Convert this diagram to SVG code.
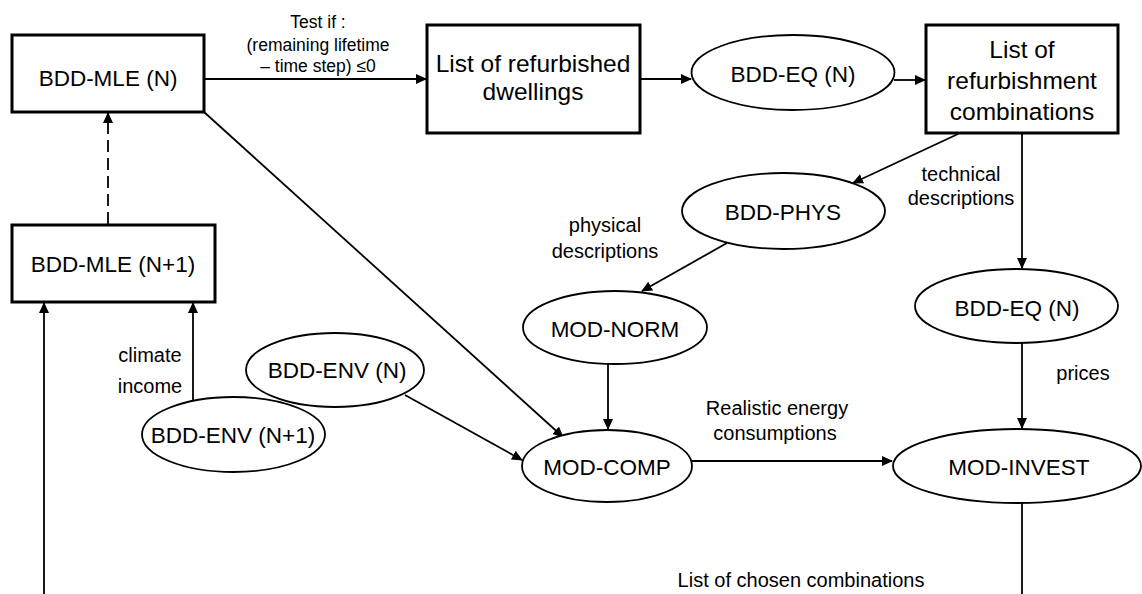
<svg xmlns="http://www.w3.org/2000/svg" width="1142" height="594" viewBox="0 0 1142 594">
<style>
  text { font-family: "Liberation Sans", Arial, sans-serif; fill: #000; text-anchor: middle; }
  .node { font-size: 22.5px; }
  .big { font-size: 24.5px; }
  .lbl { font-size: 20px; }
  .small { font-size: 17.5px; }
  .box { fill: #fff; stroke: #000; stroke-width: 3; }
  .ell { fill: #fff; stroke: #000; stroke-width: 1.8; }
  .edge { fill: none; stroke: #000; stroke-width: 1.8; }
  .arr { marker-end: url(#ah); }
  .dash { stroke-dasharray: 12 6; }
</style>
<defs>
  <marker id="ah" markerUnits="userSpaceOnUse" markerWidth="11" markerHeight="10" refX="10" refY="5" orient="auto">
    <path d="M0,0 L11,5 L0,10 z" fill="#000"/>
  </marker>
</defs>

<g id="connectors">
  <line class="edge arr" x1="204" y1="79" x2="426" y2="79"/>
  <line class="edge arr" x1="641" y1="79" x2="691" y2="79"/>
  <line class="edge arr" x1="894" y1="80" x2="925" y2="80"/>
  <line class="edge arr" x1="958" y1="134" x2="853" y2="183"/>
  <line class="edge arr" x1="1022" y1="134" x2="1022" y2="268"/>
  <line class="edge arr" x1="727" y1="243" x2="642" y2="291"/>
  <line class="edge arr" x1="1022" y1="343" x2="1022" y2="428"/>
  <line class="edge arr" x1="608" y1="364" x2="608" y2="429"/>
  <line class="edge arr" x1="204" y1="112" x2="563" y2="437"/>
  <line class="edge arr" x1="405" y1="395" x2="522" y2="460"/>
  <line class="edge arr" x1="692" y1="461" x2="892" y2="461"/>
  <line class="edge" x1="1022" y1="503" x2="1022" y2="594"/>
  <line class="edge arr" x1="44" y1="594" x2="44" y2="303"/>
  <line class="edge arr" x1="193" y1="400" x2="193" y2="303"/>
  <line class="edge dash arr" x1="108" y1="224" x2="108" y2="113"/>
  <text class="small" x="318" y="28">Test if :</text>
  <text class="small" x="318" y="51">(remaining lifetime</text>
  <text class="small" x="318" y="72">– time step) ≤0</text>
  <text class="lbl" x="961" y="181">technical</text>
  <text class="lbl" x="961" y="205">descriptions</text>
  <text class="lbl" x="605" y="232">physical</text>
  <text class="lbl" x="605" y="258">descriptions</text>
  <text class="lbl" x="1083" y="380">prices</text>
  <text class="lbl" x="777" y="415">Realistic energy</text>
  <text class="lbl" x="775" y="440">consumptions</text>
  <text class="lbl" x="150" y="362">climate</text>
  <text class="lbl" x="150" y="393">income</text>
  <text class="lbl" x="801" y="587">List of chosen combinations</text>
</g>

<g id="bdd-mle-n">
  <rect class="box" x="12" y="35" width="192" height="77"/>
  <text class="node" x="108" y="86">BDD-MLE (N)</text>
</g>
<g id="list-refurbished">
  <rect class="box" x="427" y="25" width="213" height="108"/>
  <text class="big" x="533" y="72">List of refurbished</text>
  <text class="big" x="533" y="100">dwellings</text>
</g>
<g id="bdd-eq-top">
  <ellipse class="ell" cx="793" cy="72.5" rx="101.5" ry="37.5"/>
  <text class="node" x="793" y="82">BDD-EQ (N)</text>
</g>
<g id="list-combinations">
  <rect class="box" x="926" y="25" width="192" height="108"/>
  <text class="big" x="1022" y="58">List of</text>
  <text class="big" x="1022" y="89">refurbishment</text>
  <text class="big" x="1022" y="120">combinations</text>
</g>
<g id="bdd-phys">
  <ellipse class="ell" cx="783.5" cy="211" rx="101.5" ry="38"/>
  <text class="node" x="783" y="220">BDD-PHYS</text>
</g>
<g id="bdd-mle-n1">
  <rect class="box" x="12" y="225" width="203" height="77"/>
  <text class="node" x="113" y="272">BDD-MLE (N+1)</text>
</g>
<g id="mod-norm">
  <ellipse class="ell" cx="615" cy="327.5" rx="92" ry="36.5"/>
  <text class="node" x="615" y="337">MOD-NORM</text>
</g>
<g id="bdd-eq-right">
  <ellipse class="ell" cx="1016.5" cy="306" rx="101.5" ry="37"/>
  <text class="node" x="1017" y="316">BDD-EQ (N)</text>
</g>
<g id="bdd-env-n">
  <ellipse class="ell" cx="335" cy="370" rx="89" ry="37"/>
  <text class="node" x="337" y="378">BDD-ENV (N)</text>
</g>
<g id="bdd-env-n1">
  <ellipse class="ell" cx="233.5" cy="434.5" rx="91.5" ry="37.5"/>
  <text class="node" x="233" y="443">BDD-ENV (N+1)</text>
</g>
<g id="mod-comp">
  <ellipse class="ell" cx="607" cy="466" rx="85" ry="36"/>
  <text class="node" x="607" y="475">MOD-COMP</text>
</g>
<g id="mod-invest">
  <ellipse class="ell" cx="1017" cy="466" rx="124" ry="37"/>
  <text class="node" x="1019" y="475">MOD-INVEST</text>
</g>
</svg>
